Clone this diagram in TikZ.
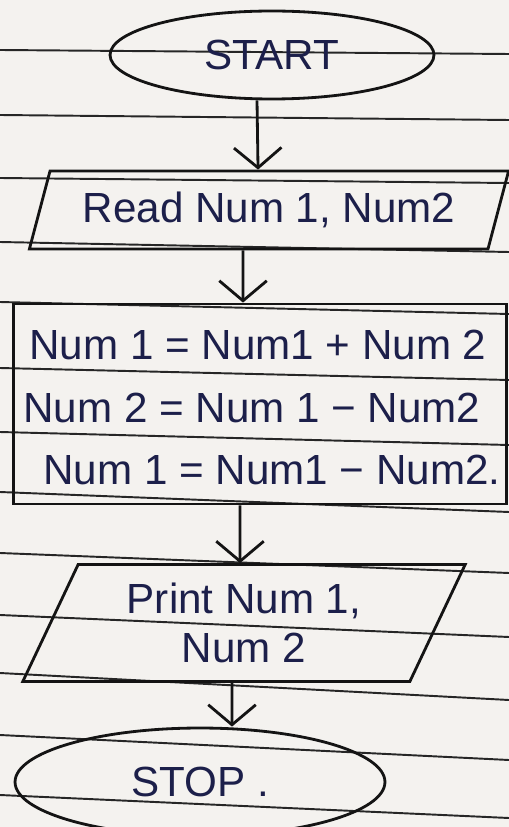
\documentclass[tikz,border=0pt]{standalone}
\usepackage{fontspec}
\setmainfont{Liberation Sans}
\usetikzlibrary{shapes.geometric,arrows.meta,calc}

\definecolor{paper}{HTML}{F4F2EF}
\definecolor{ink}{HTML}{1C1F4A}
\definecolor{pen}{HTML}{141414}
\definecolor{rule}{HTML}{262626}

\tikzset{
  shape line/.style={draw=pen, line width=1.6pt},
  hand text/.style={text=ink, font=\fontsize{24}{32}\selectfont},
  terminal/.style={shape line, ellipse, hand text, inner sep=0pt},
  iobox/.style={shape line, trapezium, trapezium stretches=true,
    trapezium left angle=64, trapezium right angle=116, hand text, inner sep=0pt},
  procbox/.style={shape line, rectangle, inner sep=0pt},
  flow/.style={draw=pen, line width=1.6pt,
    -{Straight Barb[length=0.4cm, width=0.95cm, line width=1.6pt]}},
  ruled/.style={draw=rule, line width=1.1pt}
}

\begin{document}
\begin{tikzpicture}[x=0.02cm, y=-0.02cm]
  % paper sheet
  \fill[paper] (0,0) rectangle (509,827);
  \useasboundingbox (0,0) rectangle (509,827);

  % ruled lines of the notebook page (left height / right height)
  \foreach \l/\r in {50/54, 115/120, 178/183, 242/252, 302/314, 368/380,
                     432/445, 492/512, 553/573, 615/637, 673/700, 735/760, 795/818}
    \draw[ruled] (0,\l) -- (509,\r);

  % flowchart shapes
  \node[terminal, minimum width=6.48cm, minimum height=1.76cm] (start) at (272,55) {START};
  \node[iobox, minimum width=9.6cm, minimum height=1.56cm] (read) at (269,210) {Read Num 1, Num2};
  \node[procbox, minimum width=9.86cm, minimum height=4cm] (proc) at (260,404) {};
  \node[hand text] (l1) at (258,345) {Num 1 = Num1 + Num 2};
  \node[hand text] (l2) at (252,408) {Num 2 = Num 1 − Num2};
  \node[hand text] (l3) at (272,470) {Num 1 = Num1 − Num2.};
  \node[iobox, minimum width=8.86cm, minimum height=2.34cm, align=center] (print) at (244,623)
       {Print Num 1,\\[-4pt]Num 2};
  \node[terminal, minimum width=7.4cm, minimum height=2.16cm] (stop) at (200,782) {STOP .};

  % connectors
  \draw[flow] ([xshift=-0.3cm]start.south) -- ([xshift=-0.22cm]read.north);
  \draw[flow] ([xshift=-0.52cm]read.south) -- ([xshift=-0.34cm]proc.north);
  \draw[flow] ([xshift=-0.4cm]proc.south) -- ([xshift=-0.08cm]print.north);
  \draw[flow] ([xshift=-0.24cm]print.south) -- ([xshift=0.64cm]stop.north);
\end{tikzpicture}
\end{document}
